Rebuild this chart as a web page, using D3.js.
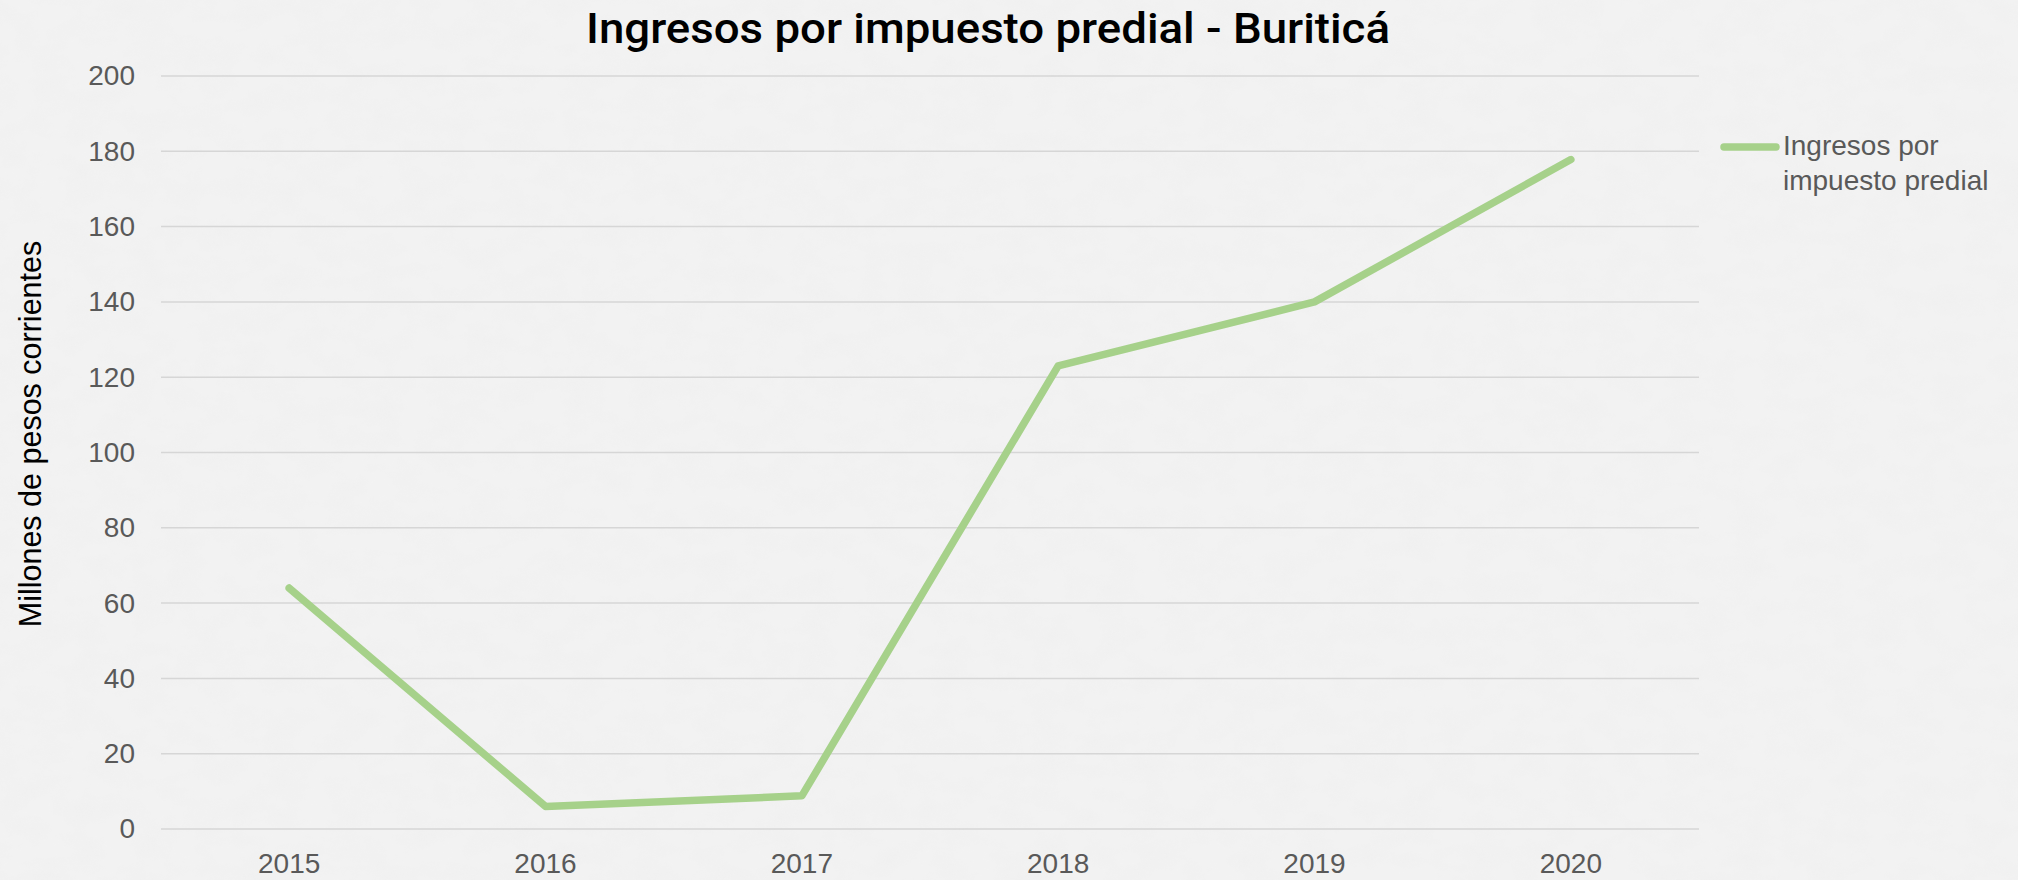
<!DOCTYPE html>
<html>
<head>
<meta charset="utf-8">
<script src="https://cdn.jsdelivr.net/npm/d3@7"></script>
<style>
  html, body { margin: 0; padding: 0; background: #efefef; }
  svg { display: block; }
</style>
</head>
<body>
<svg id="chart"></svg>
<script>
const width = 2018;
const height = 880;

// data
const years = ["2015", "2016", "2017", "2018", "2019", "2020"];
const ingresos = [64, 6, 8.8, 123, 140, 177.8];
const yTicks = [0, 20, 40, 60, 80, 100, 120, 140, 160, 180, 200];
const seriesName = ["Ingresos por", "impuesto predial"];

const margin = {top: 76, right: 319, bottom: 51, left: 161};

var svg = d3.select("#chart")
    .attr("width", width)
    .attr("height", height)
    .attr("viewBox", `0 0 ${width} ${height}`);

// paper-like background
var defs = svg.append("defs");
var filter = defs.append("filter").attr("id", "paper")
    .attr("x", 0).attr("y", 0).attr("width", "100%").attr("height", "100%");
filter.append("feTurbulence")
    .attr("type", "fractalNoise")
    .attr("baseFrequency", "0.03 0.045")
    .attr("numOctaves", 5)
    .attr("seed", 7)
    .attr("result", "noise");
filter.append("feColorMatrix")
    .attr("in", "noise")
    .attr("type", "matrix")
    .attr("values", "0 0 0 0 0.86  0 0 0 0 0.86  0 0 0 0 0.86  0 0 0 -1.6 1.0")
    .attr("result", "tint");

svg.append("rect")
    .attr("width", width).attr("height", height)
    .attr("fill", "#f2f2f2");
svg.append("rect")
    .attr("width", width).attr("height", height)
    .attr("filter", "url(#paper)")
    .attr("opacity", 0.55);

var x = d3.scaleBand()
    .domain(years)
    .range([margin.left, width - margin.right]);

var y = d3.scaleLinear()
    .domain([0, 200])
    .range([height - margin.bottom, margin.top]);

// gridlines
svg.append("g")
    .selectAll("line")
    .data(yTicks)
    .enter().append("line")
    .attr("x1", margin.left)
    .attr("x2", width - margin.right)
    .attr("y1", d => y(d))
    .attr("y2", d => y(d))
    .attr("stroke", "#d6d6d6")
    .attr("stroke-width", 1.5);

// y axis
var yAxis = svg.append("g")
    .attr("transform", `translate(${margin.left},0)`)
    .call(d3.axisLeft(y).tickValues(yTicks).tickSize(0).tickPadding(26));
yAxis.select(".domain").remove();
yAxis.selectAll("text")
    .attr("fill", "#595959")
    .style("font-family", "Liberation Sans, Arial, sans-serif")
    .style("font-size", "28px");

// x axis
var xAxis = svg.append("g")
    .attr("transform", `translate(0,${height - margin.bottom})`)
    .call(d3.axisBottom(x).tickSize(0).tickPadding(24));
xAxis.select(".domain").remove();
xAxis.selectAll("text")
    .attr("fill", "#595959")
    .style("font-family", "Liberation Sans, Arial, sans-serif")
    .style("font-size", "28px");

// line
var line = d3.line()
    .x((d, i) => x(years[i]) + x.bandwidth() / 2)
    .y(d => y(d));

svg.append("path")
    .datum(ingresos)
    .attr("fill", "none")
    .attr("stroke", "#a6d18a")
    .attr("stroke-width", 7.5)
    .attr("stroke-linejoin", "round")
    .attr("stroke-linecap", "round")
    .attr("d", line);

// title
svg.append("text")
    .attr("x", 988)
    .attr("y", 43)
    .attr("text-anchor", "middle")
    .attr("fill", "#000")
    .attr("textLength", 804)
    .attr("lengthAdjust", "spacingAndGlyphs")
    .style("font-family", "Roboto, sans-serif")
    .style("font-weight", 500)
    .style("font-size", "43px")
    .text("Ingresos por impuesto predial - Buriticá");

// y axis title
svg.append("text")
    .attr("transform", "translate(41,434) rotate(-90)")
    .attr("text-anchor", "middle")
    .attr("fill", "#000")
    .style("font-family", "Liberation Sans, Arial, sans-serif")
    .style("font-size", "30.5px")
    .text("Millones de pesos corrientes");

// legend
var legend = svg.append("g");
legend.append("line")
    .attr("x1", 1724).attr("x2", 1776)
    .attr("y1", 147).attr("y2", 147)
    .attr("stroke", "#a6d18a")
    .attr("stroke-width", 7.5)
    .attr("stroke-linecap", "round");
legend.selectAll("text")
    .data(seriesName)
    .enter().append("text")
    .attr("x", 1783)
    .attr("y", (d, i) => 155 + i * 35)
    .attr("fill", "#595959")
    .style("font-family", "Liberation Sans, Arial, sans-serif")
    .style("font-size", "28px")
    .text(d => d);
</script>
</body>
</html>
